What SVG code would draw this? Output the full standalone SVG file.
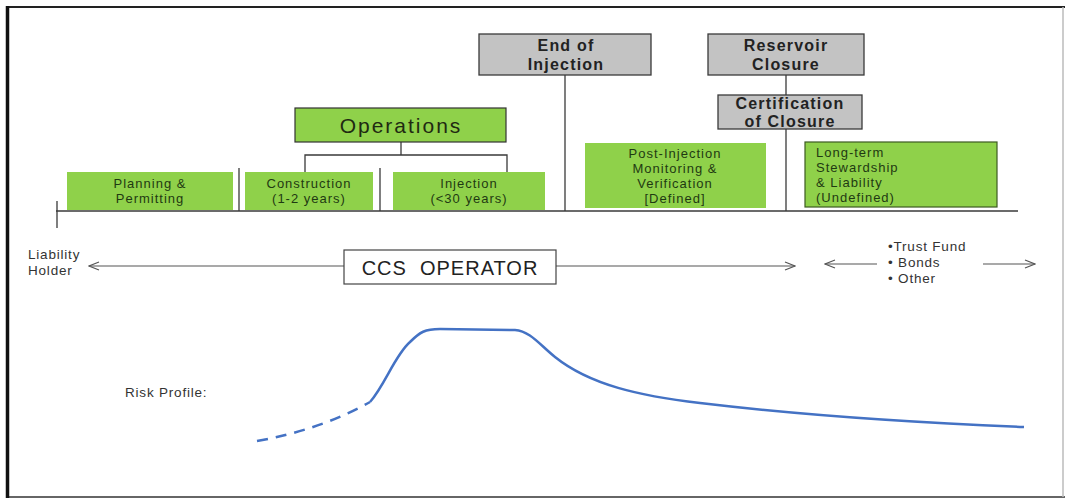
<svg xmlns="http://www.w3.org/2000/svg" width="1066" height="499" viewBox="0 0 1066 499">
<defs>
<marker id="arr" markerWidth="12" markerHeight="10" refX="11" refY="5" orient="auto-start-reverse" markerUnits="userSpaceOnUse">
<path d="M1,1 L11,5 L1,9" fill="none" stroke="#555" stroke-width="1.2"/>
</marker>
<style>
.g{fill:#8fd14a;}
.gb{fill:#8fd14a;stroke:#3d5a22;stroke-width:1.2;}
.gr{fill:#c3c3c3;stroke:#3a3a3a;stroke-width:1.3;}
.gt{font-family:"Liberation Sans",Arial,sans-serif;font-size:13px;letter-spacing:1px;fill:#1f3a12;text-anchor:middle;}
.gtl{font-family:"Liberation Sans",Arial,sans-serif;font-size:13px;letter-spacing:1px;fill:#1f3a12;}
.bt{font-family:"Liberation Sans",Arial,sans-serif;font-size:16px;letter-spacing:1.2px;font-weight:bold;fill:#222;text-anchor:middle;}
.ln{stroke:#3a3a3a;stroke-width:1.3;fill:none;}
.ar{stroke:#555;stroke-width:1.2;fill:none;}
.tx{font-family:"Liberation Sans",Arial,sans-serif;font-size:13.5px;letter-spacing:0.8px;fill:#333;}
</style>
</defs>
<rect x="0" y="0" width="1066" height="499" fill="#fff"/>
<path d="M8,7 H1065" stroke="#222" stroke-width="2"/>
<path d="M8,497 H1065" stroke="#666" stroke-width="2"/>
<path d="M1063,7 V497" stroke="#bbb" stroke-width="1.5"/>
<line x1="7.5" y1="6" x2="7.5" y2="498" stroke="#111" stroke-width="3.5"/>

<g id="connectors">
<line class="ln" x1="565" y1="75" x2="565" y2="211"/>
<line class="ln" x1="786" y1="75" x2="786" y2="95"/>
<line class="ln" x1="786" y1="129" x2="786" y2="211"/>
<polyline class="ln" points="401,142 401,155"/>
<polyline class="ln" points="305,172 305,155 507,155 507,172"/>
<line class="ln" x1="56" y1="211" x2="1018" y2="211"/>
<line class="ln" x1="57" y1="201" x2="57" y2="228"/>
<line class="ln" x1="239" y1="168" x2="239" y2="211"/>
<line class="ln" x1="380" y1="168" x2="380" y2="211"/>
<line class="ar" x1="344" y1="266" x2="89" y2="266" marker-end="url(#arr)"/>
<line class="ar" x1="556" y1="266" x2="795" y2="266" marker-end="url(#arr)"/>
<line class="ar" x1="877" y1="264" x2="825" y2="264" marker-end="url(#arr)"/>
<line class="ar" x1="983" y1="264" x2="1035" y2="264" marker-end="url(#arr)"/>
</g>

<g id="end-of-injection">
<rect class="gr" x="479" y="34" width="172" height="41"/>
<text class="bt" x="566" y="51">End of</text>
<text class="bt" x="566" y="70">Injection</text>
</g>
<g id="reservoir-closure">
<rect class="gr" x="708" y="34" width="156" height="41"/>
<text class="bt" x="786" y="51">Reservoir</text>
<text class="bt" x="786" y="70">Closure</text>
</g>
<g id="certification">
<rect class="gr" x="718" y="95" width="144" height="34"/>
<text class="bt" x="790" y="109">Certification</text>
<text class="bt" x="790" y="127">of Closure</text>
</g>
<g id="operations">
<rect class="g" x="295" y="108" width="211" height="34" stroke="#333" stroke-width="1.2"/>
<text x="401" y="133" font-family="'Liberation Sans',Arial,sans-serif" font-size="21" fill="#1f2a12" text-anchor="middle" letter-spacing="2">Operations</text>
</g>
<g id="planning">
<rect class="g" x="67" y="172" width="166" height="38"/>
<text class="gt" x="150" y="188">Planning &amp;</text>
<text class="gt" x="150" y="203">Permitting</text>
</g>
<g id="construction">
<rect class="g" x="245" y="172" width="128" height="38"/>
<text class="gt" x="309" y="188">Construction</text>
<text class="gt" x="309" y="203">(1-2 years)</text>
</g>
<g id="injection">
<rect class="g" x="393" y="172" width="152" height="38"/>
<text class="gt" x="469" y="188">Injection</text>
<text class="gt" x="469" y="203">(&lt;30 years)</text>
</g>
<g id="post-injection">
<rect class="g" x="585" y="143" width="181" height="65"/>
<text class="gt" x="675" y="158">Post-Injection</text>
<text class="gt" x="675" y="173">Monitoring &amp;</text>
<text class="gt" x="675" y="188">Verification</text>
<text class="gt" x="675" y="203">[Defined]</text>
</g>
<g id="long-term">
<rect class="gb" x="805" y="142" width="192" height="65"/>
<text class="gtl" x="816" y="157">Long-term</text>
<text class="gtl" x="816" y="172">Stewardship</text>
<text class="gtl" x="816" y="187">&amp; Liability</text>
<text class="gtl" x="816" y="202">(Undefined)</text>
</g>

<g id="liability-holder">
<text class="tx" x="28" y="259">Liability</text>
<text class="tx" x="28" y="275">Holder</text>
</g>
<g id="ccs-operator">
<rect x="344" y="250" width="212" height="34" fill="#fff" stroke="#444" stroke-width="1.2"/>
<text x="450" y="275" font-family="'Liberation Sans',Arial,sans-serif" font-size="20" letter-spacing="1" fill="#222" text-anchor="middle" xml:space="preserve">CCS  OPERATOR</text>
</g>
<g id="instruments">
<text class="tx" x="888" y="251">•Trust Fund</text>
<text class="tx" x="888" y="267">• Bonds</text>
<text class="tx" x="888" y="283">• Other</text>
</g>

<g id="risk-profile">
<text class="tx" x="125" y="397">Risk Profile:</text>
<path d="M257,441 Q320,430 370,402" fill="none" stroke="#4472c4" stroke-width="2.5" stroke-dasharray="11,8"/>
<path d="M370,402 C385,385 395,355 410,342 C420,332 425,329 440,329 L515,330 C530,331 540,345 555,357 C590,385 640,396 700,403 C800,415 900,422 1024,427" fill="none" stroke="#4472c4" stroke-width="2.5"/>
</g>
</svg>
